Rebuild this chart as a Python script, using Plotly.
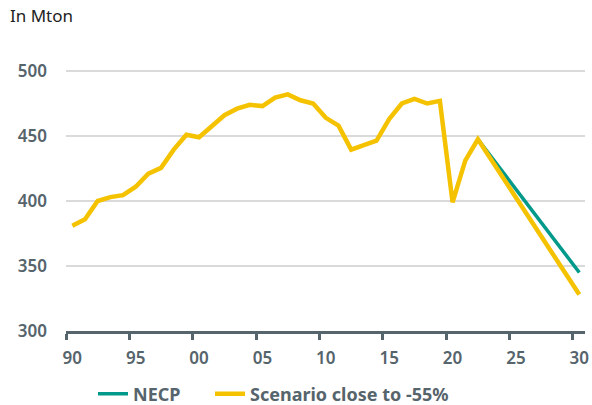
import plotly.graph_objects as go

# Data
years_hist = list(range(1990, 2023)) + [2030]
scenario = [381, 386, 400, 403, 404.5, 411, 421, 425.5, 439.5, 451,
            449, 457, 466, 471, 474, 473, 479.5, 482, 477.5, 475,
            464, 458, 439.5, 443, 446.5, 463, 475, 478.5, 475, 477,
            399, 431, 447.5, 328]
necp_years = [2022, 2030]
necp = [447.5, 345]

tick_years = [1990, 1995, 2000, 2005, 2010, 2015, 2020, 2025, 2030]
tick_labels = ["90", "95", "00", "05", "10", "15", "20", "25", "30"]
y_ticks = [300, 350, 400, 450, 500]

slate = "#56646c"
teal = "#00998a"
yellow = "#f5c200"
fam = "Noto Sans"

fig = go.Figure()
fig.add_trace(go.Scatter(x=necp_years, y=necp, mode="lines", name="NECP",
                         line=dict(color=teal, width=3.5), legend="legend"))
fig.add_trace(go.Scatter(x=years_hist, y=scenario, mode="lines",
                         name="Scenario close to -55%",
                         line=dict(color=yellow, width=4.5), legend="legend2"))

leg_font = dict(family=fam, size=18, color=slate, weight=700)

fig.update_layout(
    width=592, height=405,
    margin=dict(l=66, r=7, t=45, b=74, autoexpand=False),
    plot_bgcolor="white", paper_bgcolor="white",
    font=dict(family=fam, size=17, color=slate),
    title=dict(text="In Mton", xref="container", yref="container",
               x=10/592, y=1-16/405, xanchor="left", yanchor="middle",
               font=dict(family=fam, size=17, color="#222222")),
    showlegend=True,
    legend=dict(orientation="h", xref="container", yref="container",
                x=93/592, xanchor="left", y=1-394/405, yanchor="middle",
                font=leg_font, bgcolor="rgba(0,0,0,0)"),
    legend2=dict(orientation="h", xref="container", yref="container",
                 x=210/592, xanchor="left", y=1-394/405, yanchor="middle",
                 font=leg_font, bgcolor="rgba(0,0,0,0)"),
    xaxis=dict(range=[1989.5, 2030.45],
               tickvals=tick_years, ticktext=tick_labels,
               showgrid=False, zeroline=False,
               showline=True, linecolor=slate, linewidth=3,
               ticks="", ticklabelstandoff=10,
               minor=dict(tickvals=[y - 0.5 for y in tick_years],
                          ticks="outside", ticklen=6, tickwidth=2.5,
                          tickcolor=slate, showgrid=False),
               tickfont=dict(family=fam, size=17, color=slate, weight=600)),
    yaxis=dict(range=[300, 520], tickvals=y_ticks,
               showgrid=True, gridcolor="#dadada", gridwidth=1.5,
               zeroline=False, showline=False, ticks="",
               ticklabelstandoff=18,
               tickfont=dict(family=fam, size=17, color=slate, weight=600)),
)

fig.write_html("out.html")
